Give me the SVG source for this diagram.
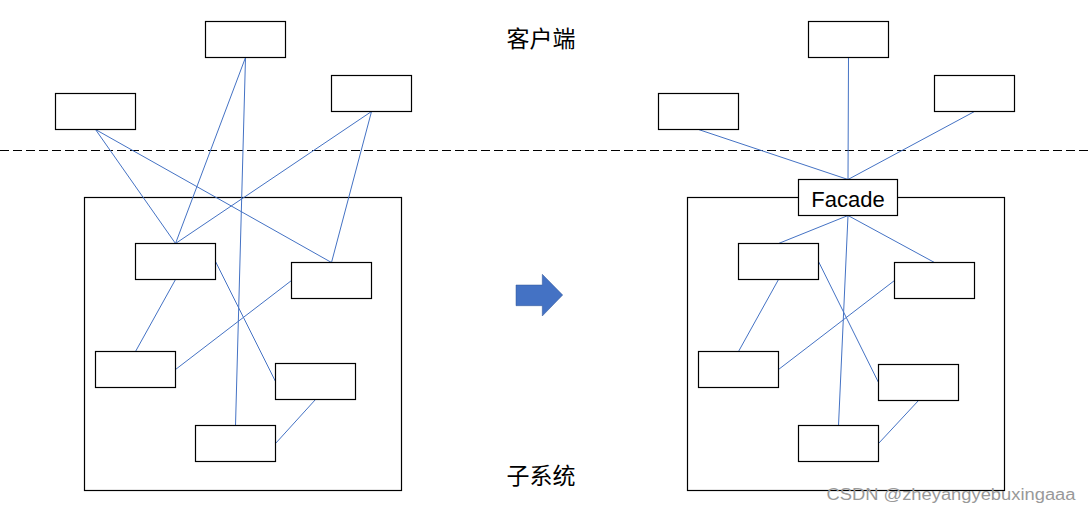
<svg xmlns="http://www.w3.org/2000/svg" width="1091" height="514" viewBox="0 0 1091 514">
<style>
.box{fill:#fff;stroke:#000;stroke-width:1.2}
.frame{fill:none;stroke:#000;stroke-width:1.2}
.con line{stroke:#4472C4;stroke-width:1}
.lbl{font-family:"Noto Sans CJK SC","Liberation Sans",sans-serif;font-size:23px;fill:#000;text-anchor:middle}
</style>
<rect width="1091" height="514" fill="#fff"/>
<line x1="0" y1="150.5" x2="1091" y2="150.5" stroke="#000" stroke-width="1" stroke-dasharray="9,4"/>
<g id="left-subsystem"><rect class="frame" x="84.5" y="197.5" width="317" height="293"/></g>
<g id="right-subsystem"><rect class="frame" x="687.5" y="197.5" width="317" height="293"/></g>
<g class="con" id="connectors">
<line x1="95.5" y1="129.5" x2="175.5" y2="243.5"/>
<line x1="95.5" y1="129.5" x2="331.5" y2="262.5"/>
<line x1="245.5" y1="57.5" x2="175.5" y2="243.5"/>
<line x1="245.5" y1="57.5" x2="235.5" y2="425.5"/>
<line x1="371.5" y1="111.5" x2="175.5" y2="243.5"/>
<line x1="371.5" y1="111.5" x2="331.5" y2="262.5"/>
<line x1="175.5" y1="279.5" x2="135.5" y2="351.5"/>
<line x1="215.5" y1="261.5" x2="275.5" y2="381.5"/>
<line x1="291.5" y1="280.5" x2="175.5" y2="369.5"/>
<line x1="315.5" y1="399.5" x2="275.5" y2="443.5"/>
<line x1="698.5" y1="129.5" x2="848" y2="179.5"/>
<line x1="848.5" y1="57.5" x2="848" y2="179.5"/>
<line x1="974.5" y1="111.5" x2="848" y2="179.5"/>
<line x1="848" y1="215.5" x2="778.5" y2="243.5"/>
<line x1="848" y1="215.5" x2="934.5" y2="262.5"/>
<line x1="848" y1="215.5" x2="838.5" y2="425.5"/>
<line x1="778.5" y1="279.5" x2="738.5" y2="351.5"/>
<line x1="818.5" y1="261.5" x2="878.5" y2="382.5"/>
<line x1="894.5" y1="280.5" x2="778.5" y2="369.5"/>
<line x1="918.5" y1="400.5" x2="878.5" y2="443.5"/>
</g>
<g id="lc1"><rect class="box" x="205.5" y="21.5" width="80" height="36"/></g>
<g id="lc2"><rect class="box" x="55.5" y="93.5" width="80" height="36"/></g>
<g id="lc3"><rect class="box" x="331.5" y="75.5" width="80" height="36"/></g>
<g id="ls1"><rect class="box" x="135.5" y="243.5" width="80" height="36"/></g>
<g id="ls2"><rect class="box" x="291.5" y="262.5" width="80" height="36"/></g>
<g id="ls3"><rect class="box" x="95.5" y="351.5" width="80" height="36"/></g>
<g id="ls4"><rect class="box" x="275.5" y="363.5" width="80" height="36"/></g>
<g id="ls5"><rect class="box" x="195.5" y="425.5" width="80" height="36"/></g>
<g id="rc1"><rect class="box" x="808.5" y="21.5" width="80" height="36"/></g>
<g id="rc2"><rect class="box" x="658.5" y="93.5" width="80" height="36"/></g>
<g id="rc3"><rect class="box" x="934.5" y="75.5" width="80" height="36"/></g>
<g id="facade"><rect class="box" x="798.5" y="179.5" width="99" height="36"/><text x="848" y="206.5" font-family="'Liberation Sans',sans-serif" font-size="22" text-anchor="middle" fill="#000">Facade</text></g>
<g id="rs1"><rect class="box" x="738.5" y="243.5" width="80" height="36"/></g>
<g id="rs2"><rect class="box" x="894.5" y="262.5" width="80" height="36"/></g>
<g id="rs3"><rect class="box" x="698.5" y="351.5" width="80" height="36"/></g>
<g id="rs4"><rect class="box" x="878.5" y="364.5" width="80" height="36"/></g>
<g id="rs5"><rect class="box" x="798.5" y="425.5" width="80" height="36"/></g>
<g id="arrow"><polygon points="516,285 542.3,285 542.3,274.3 562.7,295 542.3,316 542.3,305.7 516,305.7" fill="#4472C4" stroke="#2F5597" stroke-width="0.5"/></g>
<text class="lbl" x="541" y="47">客户端</text>
<text class="lbl" x="541" y="484">子系统</text>
<text x="951" y="500" font-family="'Liberation Sans',sans-serif" font-size="16" fill="#999" text-anchor="middle" textLength="249" lengthAdjust="spacingAndGlyphs">CSDN @zheyangyebuxingaaa</text>
</svg>
